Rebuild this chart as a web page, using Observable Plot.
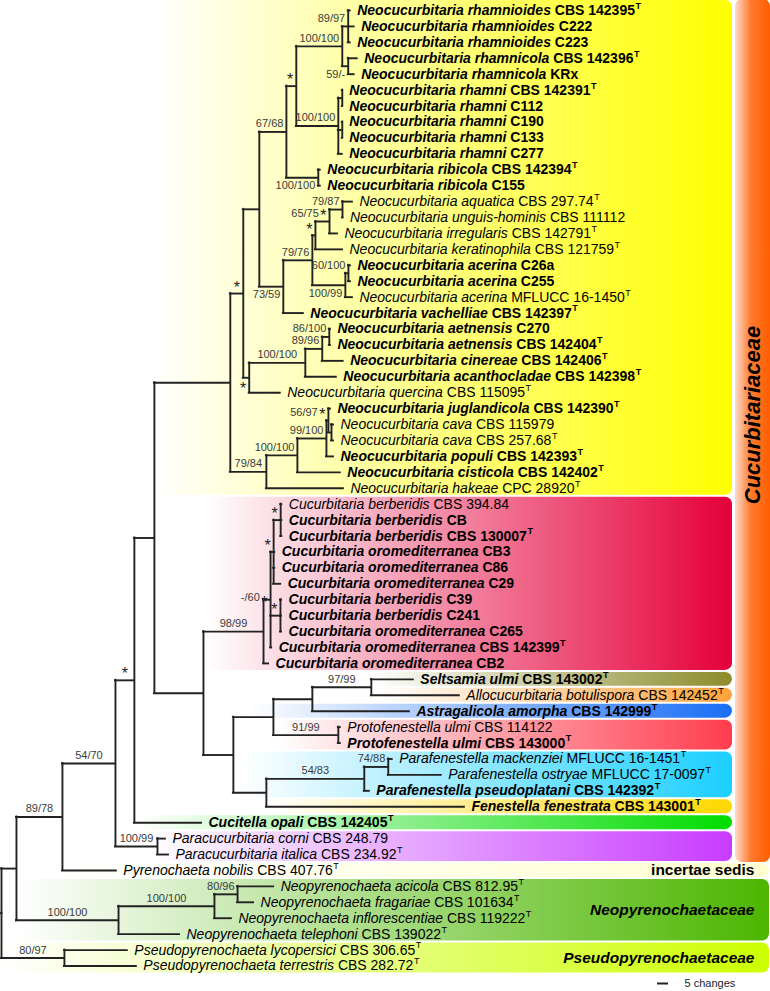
<!DOCTYPE html>
<html><head><meta charset="utf-8">
<script src="https://cdn.jsdelivr.net/npm/d3@7"></script>
<script src="https://cdn.jsdelivr.net/npm/@observablehq/plot@0.6"></script>
<style>body{margin:0;background:#fff}#chart svg{display:block}</style>
</head><body>
<svg id="gdefs" width="0" height="0" style="position:absolute"></svg>
<div id="chart"></div>
<script>
// ---------------- DATA ----------------
const species = [
"Neocucurbitaria rhamnioides","Neocucurbitaria rhamnioides","Neocucurbitaria rhamnioides",
"Neocucurbitaria rhamnicola","Neocucurbitaria rhamnicola",
"Neocucurbitaria rhamni","Neocucurbitaria rhamni","Neocucurbitaria rhamni","Neocucurbitaria rhamni","Neocucurbitaria rhamni",
"Neocucurbitaria ribicola","Neocucurbitaria ribicola",
"Neocucurbitaria aquatica","Neocucurbitaria unguis-hominis","Neocucurbitaria irregularis","Neocucurbitaria keratinophila",
"Neocucurbitaria acerina","Neocucurbitaria acerina","Neocucurbitaria acerina","Neocucurbitaria vachelliae",
"Neocucurbitaria aetnensis","Neocucurbitaria aetnensis","Neocucurbitaria cinereae","Neocucurbitaria acanthocladae","Neocucurbitaria quercina",
"Neocucurbitaria juglandicola","Neocucurbitaria cava","Neocucurbitaria cava","Neocucurbitaria populi","Neocucurbitaria cisticola","Neocucurbitaria hakeae",
"Cucurbitaria berberidis","Cucurbitaria berberidis","Cucurbitaria berberidis",
"Cucurbitaria oromediterranea","Cucurbitaria oromediterranea","Cucurbitaria oromediterranea",
"Cucurbitaria berberidis","Cucurbitaria berberidis",
"Cucurbitaria oromediterranea","Cucurbitaria oromediterranea","Cucurbitaria oromediterranea",
"Seltsamia ulmi","Allocucurbitaria botulispora","Astragalicola amorpha","Protofenestella ulmi","Protofenestella ulmi",
"Parafenestella mackenziei","Parafenestella ostryae","Parafenestella pseudoplatani","Fenestella fenestrata","Cucitella opali",
"Paracucurbitaria corni","Paracucurbitaria italica","Pyrenochaeta nobilis",
"Neopyrenochaeta acicola","Neopyrenochaeta fragariae","Neopyrenochaeta inflorescentiae","Neopyrenochaeta telephoni",
"Pseudopyrenochaeta lycopersici","Pseudopyrenochaeta terrestris"];

const strains = [
"CBS 142395","C222","C223","CBS 142396","KRx","CBS 142391","C112","C190","C133","C277","CBS 142394","C155",
"CBS 297.74","CBS 111112","CBS 142791","CBS 121759","C26a","C255","MFLUCC 16-1450","CBS 142397",
"C270","CBS 142404","CBS 142406","CBS 142398","CBS 115095","CBS 142390","CBS 115979","CBS 257.68","CBS 142393","CBS 142402","CPC 28920",
"CBS 394.84","CB","CBS 130007","CB3","C86","C29","C39","C241","C265","CBS 142399","CB2",
"CBS 143002","CBS 142452","CBS 142999","CBS 114122","CBS 143000","MFLUCC 16-1451","MFLUCC 17-0097","CBS 142392","CBS 143001","CBS 142405",
"CBS 248.79","CBS 234.92","CBS 407.76","CBS 812.95","CBS 101634","CBS 119222","CBS 139022","CBS 306.65","CBS 282.72"];

// 1 = newly described / bold taxa
const bold = [1,1,1,1,1,1,1,1,1,1,1,1, 0,0,0,0, 1,1,0,1, 1,1,1,1,0, 1,0,0,1,1,0,
0,1,1,1,1,1,1,1,1,1,1, 1,0,1,0,1,0,0,1,1,1, 0,0,0,0,0,0,0,0,0];
// 1 = ex-type strain (superscript T)
const typeStrain = [1,0,0,1,0,1,0,0,0,0,1,0, 1,0,1,1, 0,0,1,1, 0,1,1,1,1, 1,0,1,1,1,1,
0,0,1,0,0,0,0,0,0,1,0, 1,1,1,0,1,1,1,1,1,1, 0,1,1,1,1,1,1,1,1];

// Tree (Newick, leaf = row index, branch lengths in changes, labels = ML/MP support; "_" = space)
const newick = `
((((((((((((
  ((0:0.9,1:2.7,2:0.9)89/97:2.7,(3:4.1,4:2.7)59/-:2.7)100/100:20.9,
  ((5:0,6:0):1.8,(7:0,8:0):1.8,9:1.8)100/100:19.1
 )*:4.5,
 (10:0.9,11:0.9)100/100:14.5
)67/68:12.3,
(((((12:4.5,13:0.2)79/87:5.9,14:3.6)65/75_*:6.4,15:12.3)*:1.4,
  ((16:0.9,17:0.9)60/100:1.4,18:3.2)100/99:15)79/76:13.2,
 19:9.1)73/59:10.9
):7.3,
((((20:0.5,21:0.5)86/100:3.2,22:9.5)89/96:7.7,23:14.1)100/100:25.5,24:14.1)*:2.7
)*:5.9,
((((25:0.9,(26:0.9,27:0.9):1.4)56/97*:0.9,28:3.2)99/100:13.2,29:19.5)100/100:14.1,30:35)79/84:16.4
):34.5,
(
 ((((31:0.5,32:0.5,33:0.5)*:3.2,34:0.5,35:0.5,36:3.2)*:1.4,(37:0.5,38:0.5,39:0.5)*:4.5,40:0.5)-/60*:3.2,41:2.3)98/99:27.3,
 (
  (((42:19.1,43:40)97/99:26.8,44:44.1):17.7,(45:0.9,46:0.9)91/99:29.5):18.2,
  (((47:1.8,48:24.1)74/88:10.9,49:2.3)54/83:44.5,50:90):15
 ):13.6
):22.3
):9.1,
51:30.5)*:8.6,
(52:3.6,53:5)100/99:19.1)54/70:24.1,
54:24.5)89/78:20.9,
((((55:16.4,56:7.3)80/96:10.5,57:7.7)100/100:43.6,58:27.7)100/100:46.4)
):6.8,
(59:28.6,60:32.7)80/97:28.6);`;

// support labels drawn below their branch / beside the node (keyed by first-last leaf)
const belowKeys = ["3-4","10-11","16-18","12-19","20-24"];
const midKeys = ["31-40"];

// coloured clade boxes
const cladeNames = ["Neocucurbitaria","Cucurbitaria","Seltsamia","Allocucurbitaria","Astragalicola","Protofenestella",
  "Parafenestella","Fenestella","Cucitella","Paracucurbitaria","incertae sedis","Neopyrenochaetaceae","Pseudopyrenochaetaceae"];
const cladeFirst = [0,31,42,43,44,45,47,50,51,52,54,55,59];
const cladeLast  = [30,41,42,43,44,46,49,50,51,53,54,58,60];
const cladeColors = ["#FFFF00","#E5003A","#8C8C2C","#FFA33A","#1A6EF5","#FF3D4E","#1CCFFF","#FFD800","#00DC00","#C83CFF","#FFFFD0","#4CB600","#CCFF00"];

const familyLabels = ["incertae sedis","Neopyrenochaetaceae","Pseudopyrenochaetaceae"];
const familyItalic = [0,1,1];
const familyClade = [10,11,12];
const cucurbitariaceaeRows = [0,53];
const scaleChanges = 5;

// ---------------- LAYOUT ----------------
const K = 2.2;                 // px per change
const X0 = 1;                  // root pixel position
const YTOP = 10, YBOT = 965.5; // first/last row px
const YK = (YBOT - YTOP) / 60;
const FONT = '"Liberation Sans", Arial, Helvetica, sans-serif';
const pxX = p => (p - X0) / K;    // absolute pixel -> data x
const dX = p => p / K;            // pixel length -> data length
const dY = p => p / YK;

const ctx = document.createElement("canvas").getContext("2d");
function tw(str, size, weight = "normal", style = "normal") {
  ctx.font = `${style} ${weight} ${size}px ${FONT}`;
  return ctx.measureText(str).width;
}

function parseNewick(str) {
  const s = str.replace(/\s+/g, "");
  let i = 0;
  function node() {
    const n = {children: [], label: "", length: 0};
    if (s[i] === "(") {
      i++;
      n.children.push(node());
      while (s[i] === ",") { i++; n.children.push(node()); }
      i++;
    }
    while (i < s.length && !",():;".includes(s[i])) n.label += s[i++];
    n.label = n.label.replace(/_/g, " ");
    if (s[i] === ":") {
      i++; let num = "";
      while (i < s.length && !",();".includes(s[i])) num += s[i++];
      n.length = +num;
    }
    return n;
  }
  return node();
}

const tree = parseNewick(newick);
const hSegs = [], vSegs = [], supports = [], tips = [];
(function walk(n, parent) {
  n.x = (parent ? parent.x : 0) + n.length;
  n.px = parent ? parent.x : n.x;
  if (n.children.length) {
    n.children.forEach(c => walk(c, n));
    const f = n.children[0], l = n.children[n.children.length - 1];
    n.y = (f.y + l.y) / 2; n.first = f.first; n.last = l.last;
    vSegs.push({x: n.x, y1: f.y, y2: l.y});
    if (n.label) supports.push(n);
  } else {
    n.leaf = +n.label; n.y = n.leaf; n.first = n.last = n.leaf;
    tips.push(n);
  }
  if (parent) hSegs.push({x1: parent.x, x2: n.x, y: n.y});
})(tree, null);

// support labels
const NUMSIZE = 11, STARSIZE = 16;
const numLabels = [], starLabels = [];
for (const n of supports) {
  const key = `${n.first}-${n.last}`;
  const mode = belowKeys.includes(key) ? "below" : midKeys.includes(key) ? "mid" : "above";
  const hasStar = n.label.endsWith("*");
  const num = n.label.replace(/\s*\*$/, "");
  const wNum = num ? tw(num, NUMSIZE) : 0;
  const wStar = hasStar ? tw("*", STARSIZE) : 0;
  const gap = hasStar && num ? 1.5 : 0;
  const total = wNum + wStar + gap;
  const branchPx = (n.x - n.px) * K;
  const end = (total + 4 <= branchPx) ? (n.x + n.px) / 2 + dX(total / 2) : n.x - dX(3);
  const numDy = mode === "above" ? -8 : mode === "below" ? 8 : -2;
  const starDy = mode === "above" ? -6 : mode === "below" ? 11 : 3;
  if (num) numLabels.push({text: num, x: end - dX(wStar + gap), y: n.y + dY(numDy)});
  if (hasStar) starLabels.push({text: "*", x: end, y: n.y + dY(starDy)});
}

// leaf labels
const GAP = 7, LEAFSIZE = 14, TSIZE = 9;
const leafRows = tips.map(t => {
  const i = t.leaf, w = bold[i] ? "bold" : "normal";
  const wSp = tw(species[i] + " ", LEAFSIZE, w, "italic");
  const wSt = tw(strains[i], LEAFSIZE, w);
  const x0 = t.x + dX(GAP);
  return {i, bold: !!bold[i], type: !!typeStrain[i], species: species[i], strain: strains[i],
    xSp: x0, xSt: x0 + dX(wSp), xT: x0 + dX(wSp + wSt + 0.5), yT: i - dY(4.5)};
});

// clade boxes
const BOX_RIGHT = 732, FULL_RIGHT = 769;
const cladeStartPx = [150,205,370,380,250,275,240,265,135,150,60,15,0];
const boxes = cladeNames.map((name, j) => ({
  name, j,
  x1: pxX(cladeStartPx[j]), x2: pxX(j >= 10 ? FULL_RIGHT : BOX_RIGHT),
  y1: cladeFirst[j] - (j === 0 ? 0.7 : 0.5), y2: cladeLast[j] + 0.5
}));

// gradients
const defs = d3.select("#gdefs").append("defs");
cladeColors.forEach((c, j) => {
  const g = defs.append("linearGradient").attr("id", "cg" + j).attr("x1", 0).attr("x2", 1).attr("y1", 0).attr("y2", 0);
  g.append("stop").attr("offset", 0).attr("stop-color", c).attr("stop-opacity", 0);
  g.append("stop").attr("offset", 1).attr("stop-color", c).attr("stop-opacity", 1);
});
{
  const g = defs.append("linearGradient").attr("id", "cgFam").attr("x1", 0).attr("x2", 1).attr("y1", 0).attr("y2", 0);
  g.append("stop").attr("offset", 0).attr("stop-color", "#FCDCCB");
  g.append("stop").attr("offset", 0.45).attr("stop-color", "#FF7B2E");
  g.append("stop").attr("offset", 1).attr("stop-color", "#FF5E00");
}

const famBar = [{x1: pxX(735), x2: pxX(770), y1: cucurbitariaceaeRows[0] - 0.7, y2: cucurbitariaceaeRows[1] + 0.5}];
const famText = familyLabels.map((t, k) => ({
  text: t, italic: familyItalic[k], x: pxX(754),
  y: (cladeFirst[familyClade[k]] + cladeLast[familyClade[k]]) / 2
}));

const barX1 = pxX(657);
const scaleBar = [{x1: barX1, x2: barX1 + scaleChanges, y: 60 + dY(17.5)}];

const leafMarks = [];
for (const b of [true, false]) {
  const rows = leafRows.filter(d => d.bold === b);
  const fw = b ? "bold" : "normal";
  leafMarks.push(
    Plot.text(rows, {x: "xSp", y: "i", text: "species", textAnchor: "start", fontSize: LEAFSIZE, fontStyle: "italic", fontWeight: fw, fill: "#000"}),
    Plot.text(rows, {x: "xSt", y: "i", text: "strain", textAnchor: "start", fontSize: LEAFSIZE, fontWeight: fw, fill: "#000"}),
    Plot.text(rows.filter(d => d.type), {x: "xT", y: "yT", text: () => "T", textAnchor: "start", fontSize: TSIZE, fontWeight: fw, fill: "#000"})
  );
}

const chart = Plot.plot({
  width: 770, height: 991,
  marginTop: 0, marginRight: 0, marginBottom: 0, marginLeft: 0,
  x: {type: "linear", domain: [0, 350], range: [X0, X0 + 350 * K], axis: null},
  y: {type: "linear", domain: [0, 60], range: [YTOP, YBOT], axis: null},
  style: {fontFamily: FONT, background: "#fff"},
  marks: [
    ...boxes.map(b => Plot.rect([b], {x1: "x1", x2: "x2", y1: "y1", y2: "y2", fill: `url(#cg${b.j})`, insetTop: 1, insetBottom: 1, rx: 7})),
    Plot.rect(famBar, {x1: "x1", x2: "x2", y1: "y1", y2: "y2", fill: "url(#cgFam)", rx: 7}),
    Plot.text(["Cucurbitariaceae"], {x: pxX(752), y: (cucurbitariaceaeRows[0] + cucurbitariaceaeRows[1]) / 2 - 1.1, text: d => d, rotate: -90, fontSize: 22, fontWeight: "bold", fontStyle: "italic", fill: "#000"}),
    ...famText.map(f => Plot.text([f], {x: "x", y: "y", text: "text", textAnchor: "end", fontSize: 15.5, fontWeight: "bold", fontStyle: f.italic ? "italic" : "normal", fill: "#000"})),
    Plot.ruleX(vSegs, {x: "x", y1: "y1", y2: "y2", stroke: "#222", strokeWidth: 1.9, strokeLinecap: "square"}),
    Plot.ruleY(hSegs, {y: "y", x1: "x1", x2: "x2", stroke: "#222", strokeWidth: 1.9, strokeLinecap: "square"}),
    Plot.text(numLabels, {x: "x", y: "y", text: "text", textAnchor: "end", fontSize: NUMSIZE, fill: "#3a3a3a"}),
    Plot.text(starLabels, {x: "x", y: "y", text: "text", textAnchor: "end", fontSize: STARSIZE, fill: "#222"}),
    ...leafMarks,
    Plot.ruleY(scaleBar, {y: "y", x1: "x1", x2: "x2", stroke: "#222", strokeWidth: 2}),
    Plot.text(scaleBar, {x: d => d.x2 + dX(16), y: "y", text: () => `${scaleChanges} changes`, textAnchor: "start", fontSize: 11, fill: "#222"})
  ]
});
document.getElementById("chart").appendChild(chart);
</script>
</body></html>
